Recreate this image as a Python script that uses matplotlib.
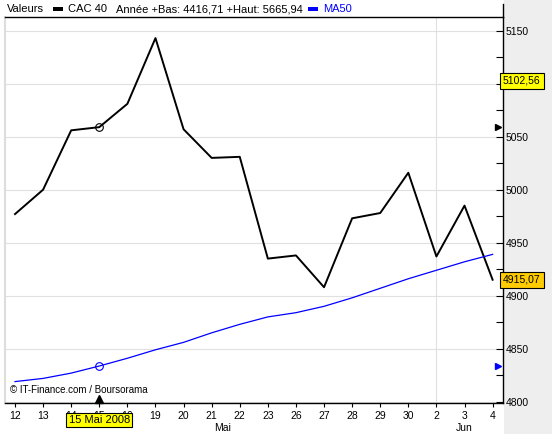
import matplotlib
matplotlib.use("Agg")
import matplotlib.pyplot as plt
from matplotlib.patches import Rectangle
from matplotlib.lines import Line2D
import matplotlib.transforms as mtransforms

days = ["12", "13", "14", "15", "16", "19", "20", "21", "22", "23",
        "26", "27", "28", "29", "30", "2", "3", "4"]
cac40 = [4977, 5000, 5056, 5059, 5081, 5143, 5057, 5030, 5031, 4935,
         4938, 4908, 4973, 4978, 5016, 4937, 4985, 4915.07]
ma50 = [4819, 4822, 4827, 4833.7, 4841, 4849, 4856, 4865, 4873, 4880,
        4884, 4890, 4898, 4907, 4916, 4924, 4932, 4939]
months = [("Mai", 7.4), ("Jun", 16.0)]
yticks = [4800, 4850, 4900, 4950, 5000, 5050, 5100, 5150]
hidden_ytick = 5100
cursor_idx = 3
cursor_label = "15 Mai 2008"
high_label = 5102.56
last_label = 4915.07

plt.rcParams['font.family'] = ['Liberation Sans', 'DejaVu Sans']

W, H = 552, 434
fig = plt.figure(figsize=(W / 100, H / 100), dpi=100)
fig.patch.set_facecolor("white")
fig.patches.append(Rectangle((504 / W, 0), (W - 504) / W, 1, transform=fig.transFigure,
                             facecolor="#eeeeee", edgecolor="none", zorder=-10))

left, right, top, bottom = 5, 503, 17, 403
ax = fig.add_axes([left / W, (H - bottom) / H, (right - left) / W, (bottom - top) / H])
ax.set_facecolor("white")

x = list(range(len(days)))
ax.plot(x, cac40, color="black", lw=1.4, zorder=3)
ax.plot(x, ma50, color="#0000ff", lw=0.9, zorder=3)
ax.plot([cursor_idx], [cac40[cursor_idx]], marker="o", ms=5.5, mfc="none", mec="black", mew=0.8, zorder=4)
ax.plot([cursor_idx], [ma50[cursor_idx]], marker="o", ms=5.5, mfc="none", mec="#0000ff", mew=0.8, zorder=4)

ax.set_xlim(-0.356, 17.37)
ax.set_ylim(4798.8, 5162.9)

ax.set_yticks(yticks)
ax.set_yticks([v + 25 for v in yticks[:-1]], minor=True)
ax.yaxis.tick_right()
ax.tick_params(axis="y", which="both", direction="in", length=5, width=0.8, labelsize=7.5, pad=2)
ax.set_yticklabels(["" if v == hidden_ytick else str(v) for v in yticks])
ax.set_xticks(x)
ax.set_xticklabels(days)
ax.tick_params(axis="x", direction="out", length=3, width=0.8, labelsize=7.5, pad=3)

for v in yticks:
    ax.axhline(v, color="#e0e0e0", lw=0.8, zorder=1)
ax.axvline(15, color="#e0e0e0", lw=0.8, zorder=1)

for s in ["top", "right", "bottom"]:
    ax.spines[s].set_color("black")
    ax.spines[s].set_linewidth(1.0)
ax.spines["left"].set_color("#dddddd")
ax.spines["left"].set_linewidth(1.5)

# right spine extension to top
fig.add_artist(Line2D([right / W, right / W], [(H - top) / H, (H - 4) / H],
                      transform=fig.transFigure, color="black", lw=1.0))

# legend header
ty = (H - 9) / H
fig.text(7 / W, ty, "Valeurs", fontsize=8, va="center")
fig.patches.append(Rectangle((53 / W, (H - 11) / H), 10 / W, 4 / H, transform=fig.transFigure,
                             facecolor="black", edgecolor="none"))
fig.text(68 / W, ty, "CAC 40", fontsize=8, va="center")
fig.text(116 / W, ty, "Année +Bas: 4416,71 +Haut: 5665,94", fontsize=8, va="center")
fig.patches.append(Rectangle((308 / W, (H - 11) / H), 10 / W, 4 / H, transform=fig.transFigure,
                             facecolor="#0000ff", edgecolor="none"))
fig.text(323 / W, ty, "MA50", fontsize=8, va="center", color="#0000ff")

# copyright
ax.text(0.01, 0.02, "© IT-Finance.com / Boursorama", transform=ax.transAxes, fontsize=7,
        va="bottom", ha="left", zorder=5)

# month labels
trans_x = mtransforms.blended_transform_factory(ax.transData, fig.transFigure)
for name, pos in months:
    fig.text(pos, (H - 428) / H, name, transform=trans_x, fontsize=7.5, ha="center", va="center")

# cursor label
fig.text(cursor_idx, (H - 420) / H, cursor_label, transform=trans_x, fontsize=8, ha="center", va="center",
         bbox=dict(boxstyle="square,pad=0.2", facecolor="#ffff00", edgecolor="black", lw=0.8), zorder=6)

# cursor marker at bottom
ax.plot([cursor_idx], [4803], marker="^", ms=6, color="black", zorder=6, clip_on=False)

# right side value labels
trans_y = mtransforms.blended_transform_factory(ax.transAxes, ax.transData)
ax.text(1.0, high_label, f"{high_label:.2f}".replace(".", ","), transform=trans_y, fontsize=7.5,
        ha="left", va="center", bbox=dict(boxstyle="square,pad=0.3", facecolor="#ffff00", edgecolor="black", lw=0.8), zorder=6)
ax.text(1.0, last_label, f"{last_label:.2f}".replace(".", ","), transform=trans_y, fontsize=7.5,
        ha="left", va="center", bbox=dict(boxstyle="square,pad=0.3", facecolor="#ffcc00", edgecolor="black", lw=0.8), zorder=6)

# value arrows at right edge
ax.plot([0.99], [cac40[cursor_idx]], marker=">", ms=5, color="black", transform=trans_y, clip_on=False, zorder=6)
ax.plot([0.99], [ma50[cursor_idx]], marker=">", ms=5, color="#0000ff", transform=trans_y, clip_on=False, zorder=6)

fig.savefig("out.png", dpi=100)
